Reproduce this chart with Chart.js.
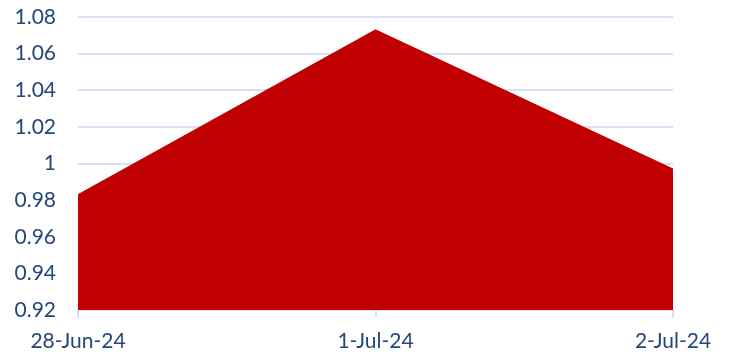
<!DOCTYPE html>
<html>
<head>
<meta charset="utf-8">
<script src="https://cdn.jsdelivr.net/npm/chart.js@4/dist/chart.umd.min.js"></script>
<style>
  html, body { margin: 0; padding: 0; background: #fff; }
  #wrap { width: 730px; height: 358px; }
</style>
</head>
<body>
<div id="wrap"><canvas id="c" width="730" height="358"></canvas></div>
<script>
// Dates and daily values
const categories = ['28-Jun-24', '1-Jul-24', '2-Jul-24'];
const values = [0.983, 1.073, 0.997];
const yTicks = [0.92, 0.94, 0.96, 0.98, 1, 1.02, 1.04, 1.06, 1.08];

const labelColor = '#24477A';
const gridColor = '#D6E0F2';
const font = { family: 'Lato', size: 21 };

new Chart(document.getElementById('c'), {
  type: 'line',
  data: {
    labels: categories,
    datasets: [{
      data: values,
      fill: 'start',
      backgroundColor: '#C00000',
      borderColor: '#C00000',
      borderWidth: 1,
      pointRadius: 0,
      tension: 0
    }]
  },
  options: {
    responsive: false,
    animation: false,
    layout: { padding: { top: 17, right: 57, left: 0, bottom: 0 } },
    plugins: { legend: { display: false }, tooltip: { enabled: false } },
    scales: {
      x: {
        type: 'category',
        offset: false,
        grid: {
          drawOnChartArea: false,
          drawTicks: true,
          tickLength: 8,
          color: gridColor,
          lineWidth: 2
        },
        border: { display: true, color: gridColor, width: 2 },
        ticks: { color: labelColor, font: font, padding: 11, maxRotation: 0, autoSkip: false },
        afterFit: s => { s.height = 48; }
      },
      y: {
        min: 0.92,
        max: 1.08,
        afterBuildTicks: s => { s.ticks = yTicks.map(v => ({ value: v })); },
        grid: { color: gridColor, lineWidth: 2, drawTicks: false },
        border: { display: false },
        ticks: {
          color: labelColor,
          font: font,
          padding: 22,
          callback: v => String(Math.round(v * 100) / 100)
        },
        afterFit: s => { s.width = 78; s.paddingTop = 0; s.paddingBottom = 0; }
      }
    }
  }
});
</script>
</body>
</html>
